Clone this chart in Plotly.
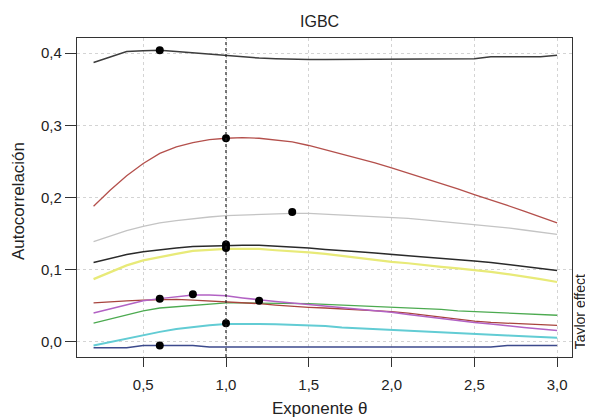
import plotly.graph_objects as go

theta = [round(0.2 + 0.1 * i, 1) for i in range(29)]

s_top = [0.387, 0.395, 0.402, 0.403, 0.404, 0.402, 0.400, 0.398, 0.396, 0.395, 0.393, 0.392, 0.391,
         0.391, 0.391, 0.391, 0.391, 0.391, 0.391, 0.391, 0.392, 0.392, 0.392, 0.392, 0.395, 0.395,
         0.395, 0.395, 0.397]
s_red = [0.188, 0.210, 0.230, 0.247, 0.261, 0.270, 0.276, 0.280, 0.282, 0.283, 0.282, 0.280, 0.277,
         0.272, 0.266, 0.261, 0.254, 0.248, 0.241, 0.234, 0.226, 0.219, 0.212, 0.204, 0.197, 0.189,
         0.181, 0.173, 0.165]
s_lgray = [0.139, 0.147, 0.154, 0.160, 0.165, 0.168, 0.171, 0.173, 0.175, 0.176, 0.177, 0.178, 0.178,
           0.178, 0.177, 0.176, 0.175, 0.174, 0.172, 0.171, 0.169, 0.167, 0.165, 0.163, 0.161, 0.158,
           0.155, 0.152, 0.149]
s_black = [0.110, 0.116, 0.121, 0.125, 0.128, 0.130, 0.132, 0.133, 0.134, 0.134, 0.134, 0.133, 0.132,
           0.130, 0.128, 0.127, 0.125, 0.123, 0.121, 0.119, 0.117, 0.115, 0.113, 0.112, 0.110, 0.107,
           0.105, 0.102, 0.099]
s_yellow = [0.087, 0.097, 0.106, 0.113, 0.118, 0.122, 0.126, 0.128, 0.129, 0.129, 0.129, 0.127, 0.126,
            0.124, 0.122, 0.119, 0.117, 0.114, 0.111, 0.109, 0.106, 0.104, 0.102, 0.100, 0.097, 0.094,
            0.091, 0.087, 0.083]
s_purple = [0.040, 0.046, 0.052, 0.057, 0.060, 0.063, 0.065, 0.065, 0.064, 0.061, 0.058, 0.056, 0.054,
            0.052, 0.050, 0.048, 0.046, 0.043, 0.041, 0.038, 0.035, 0.032, 0.029, 0.027, 0.025, 0.022,
            0.020, 0.018, 0.016]
s_brown = [0.054, 0.056, 0.057, 0.058, 0.059, 0.059, 0.058, 0.057, 0.056, 0.054, 0.053, 0.051, 0.049,
           0.048, 0.047, 0.046, 0.045, 0.044, 0.042, 0.040, 0.037, 0.034, 0.031, 0.029, 0.027, 0.026,
           0.025, 0.024, 0.023]
s_green = [0.026, 0.032, 0.038, 0.043, 0.047, 0.049, 0.051, 0.053, 0.054, 0.054, 0.054, 0.054, 0.054,
           0.053, 0.052, 0.051, 0.050, 0.0495, 0.049, 0.047, 0.046, 0.045, 0.043, 0.042, 0.041, 0.040,
           0.039, 0.038, 0.037]
s_cyan = [-0.005, 0.000, 0.005, 0.010, 0.014, 0.018, 0.021, 0.023, 0.025, 0.0255, 0.025, 0.0245, 0.024,
          0.023, 0.022, 0.020, 0.019, 0.017, 0.016, 0.015, 0.014, 0.013, 0.012, 0.011, 0.010, 0.009,
          0.008, 0.007, 0.006]
s_navy = [-0.008, -0.008, -0.008, -0.005, -0.005, -0.005, -0.005, -0.007, -0.007, -0.007, -0.007,
          -0.007, -0.007, -0.007, -0.007, -0.007, -0.007, -0.007, -0.007, -0.007, -0.007, -0.007,
          -0.007, -0.007, -0.007, -0.005, -0.005, -0.005, -0.005]

max_x = [0.6, 1.0, 1.4, 1.0, 1.0, 0.6, 0.8, 1.2, 1.0, 0.6]
max_y = [0.404, 0.282, 0.180, 0.135, 0.130, 0.060, 0.066, 0.057, 0.026, -0.005]

x_ticks = [0.5, 1.0, 1.5, 2.0, 2.5, 3.0]
x_labels = ["0,5", "1,0", "1,5", "2,0", "2,5", "3,0"]
y_ticks = [0.0, 0.1, 0.2, 0.3, 0.4]
y_labels = ["0,0", "0,1", "0,2", "0,3", "0,4"]

series = [
    (s_top, "#3c3c3c", 1.5),
    (s_red, "#b4504c", 1.3),
    (s_lgray, "#c4c4c4", 1.3),
    (s_black, "#2a2a2a", 1.5),
    (s_yellow, "#e8ea78", 2.2),
    (s_green, "#4caa50", 1.3),
    (s_brown, "#a8443e", 1.3),
    (s_purple, "#b262c4", 1.5),
    (s_cyan, "#62ccd4", 2.0),
    (s_navy, "#3c4a8c", 1.5),
]

fig = go.Figure()
for ys, col, w in series:
    fig.add_trace(go.Scatter(x=theta, y=ys, mode="lines", line=dict(color=col, width=w),
                             showlegend=False, hoverinfo="skip"))

fig.add_trace(go.Scatter(x=max_x, y=max_y, mode="markers",
                         marker=dict(color="black", size=8), showlegend=False))

fig.add_shape(type="line", xref="x", yref="paper", x0=1.0, x1=1.0, y0=0, y1=1,
              line=dict(color="#222222", width=1.2, dash="dot"))

# page body has an 8px default margin, so the figure is sized to the visible area
font_family = "Liberation Sans, Arial, sans-serif"
fig.update_layout(
    width=585, height=412,
    margin=dict(l=69, r=21, t=30, b=63),
    paper_bgcolor="white", plot_bgcolor="white",
    font=dict(family=font_family, size=15, color="#222222"),
    title=dict(text="IGBC", xref="paper", x=0.49, xanchor="center", y=1 - 13 / 412, yanchor="middle",
               font=dict(size=16, color="#222222")),
    xaxis=dict(range=[0.1, 3.09], tickvals=x_ticks, ticktext=x_labels,
               showgrid=True, gridcolor="#d4d4d4", griddash="dot", gridwidth=1,
               showline=True, linecolor="#333333", linewidth=1.2, mirror=True,
               ticks="outside", ticklen=9, tickcolor="#333333", zeroline=False,
               ticklabelstandoff=5, tickfont=dict(size=15)),
    yaxis=dict(range=[-0.0208, 0.4208], tickvals=y_ticks, ticktext=y_labels,
               showgrid=True, gridcolor="#d4d4d4", griddash="dot", gridwidth=1,
               showline=True, linecolor="#333333", linewidth=1.2, mirror=True,
               ticks="outside", ticklen=11, tickcolor="#333333", zeroline=False,
               tickfont=dict(size=15)),
)

fig.add_annotation(text="Exponente θ", xref="paper", yref="paper", x=0.489, y=-0.163,
                   xanchor="center", yanchor="middle", showarrow=False,
                   font=dict(size=17, color="#222222"))
fig.add_annotation(text="Autocorrelación", xref="paper", yref="paper", x=-0.119, y=0.489,
                   xanchor="center", yanchor="middle", textangle=-90, showarrow=False,
                   font=dict(size=17, color="#222222"))
fig.add_annotation(text="Taylor effect", xref="paper", yref="paper", x=1.0, y=0.14,
                   xanchor="center", yanchor="middle", xshift=8, textangle=-90,
                   showarrow=False, font=dict(size=14, color="#222222"))

fig.write_html("out.html")
